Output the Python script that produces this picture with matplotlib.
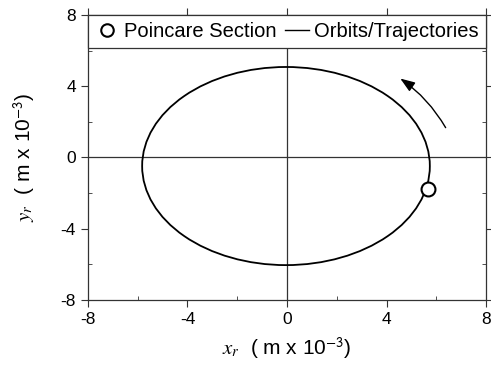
import matplotlib
matplotlib.use("Agg")
import matplotlib.pyplot as plt
from matplotlib.patches import Ellipse
from matplotlib.lines import Line2D

plt.rcParams['font.family'] = ['Liberation Sans', 'DejaVu Sans']
plt.rcParams['mathtext.fontset'] = 'stix'
plt.rcParams['axes.unicode_minus'] = False

# orbit (ellipse) parameters, units of m x 10^-3
orbit_center = (-0.04, -0.48)
orbit_width = 11.56
orbit_height = 11.12

# poincare section point
section_x = [5.66]
section_y = [-1.77]

# direction arrow (tail -> head)
arrow_tail = (6.43, 1.54)
arrow_head = (4.46, 4.52)

ticks = [-8, -4, 0, 4, 8]
minor_ticks = [-6, -2, 2, 6]

fig = plt.figure(figsize=(4.91, 3.65), dpi=100)
ax = fig.add_axes([0.179, 0.178, 0.811, 0.781])

ax.axhline(0, color='#333333', lw=0.9, zorder=1)
ax.axvline(0, color='#333333', lw=0.9, zorder=1)

orbit = Ellipse(orbit_center, orbit_width, orbit_height, fill=False,
                edgecolor='black', lw=1.3, zorder=2)
ax.add_patch(orbit)

ax.plot(section_x, section_y, 'o', ms=10, mfc='white', mec='black', mew=1.5, zorder=3)

ax.annotate('', xy=arrow_head, xytext=arrow_tail,
            arrowprops=dict(arrowstyle='-|>,head_length=0.55,head_width=0.2',
                            color='black', lw=1.0, mutation_scale=16,
                            connectionstyle='arc3,rad=0.12'))

ax.set_xlim(-8, 8)
ax.set_ylim(-8, 8)
ax.set_xticks(ticks)
ax.set_yticks(ticks)
ax.set_xticks(minor_ticks, minor=True)
ax.set_yticks(minor_ticks, minor=True)
ax.tick_params(which='major', direction='out', length=5, labelsize=12.5,
               colors='#333333', labelcolor='black')
ax.tick_params(which='minor', direction='in', length=3, colors='#333333')
ax.tick_params(which='both', top=True, right=True)
for s in ax.spines.values():
    s.set_color('#333333')
    s.set_linewidth(0.9)

ax.set_xlabel(r'$x_r$  ( m x 10$^{\mathsf{-3}}$)', fontsize=15, labelpad=6)
ax.set_ylabel(r'$y_r$  ( m x 10$^{\mathsf{-3}}$)', fontsize=15, labelpad=17)

handles = [Line2D([], [], ls='none', marker='o', ms=9, mfc='white', mec='black', mew=1.5),
           Line2D([], [], color='black', lw=1.0)]
leg = ax.legend(handles, ['Poincare Section', 'Orbits/Trajectories'], ncol=2,
                loc='upper left', bbox_to_anchor=(0, 0.877, 1, 0.123), mode='expand',
                borderaxespad=0, fancybox=False, fontsize=14.5, handlelength=1.2,
                handletextpad=0.25, columnspacing=1.2, borderpad=0.35, framealpha=1)
leg.get_frame().set_edgecolor('#333333')
leg.get_frame().set_linewidth(0.9)

fig.savefig('out.png', dpi=100)
